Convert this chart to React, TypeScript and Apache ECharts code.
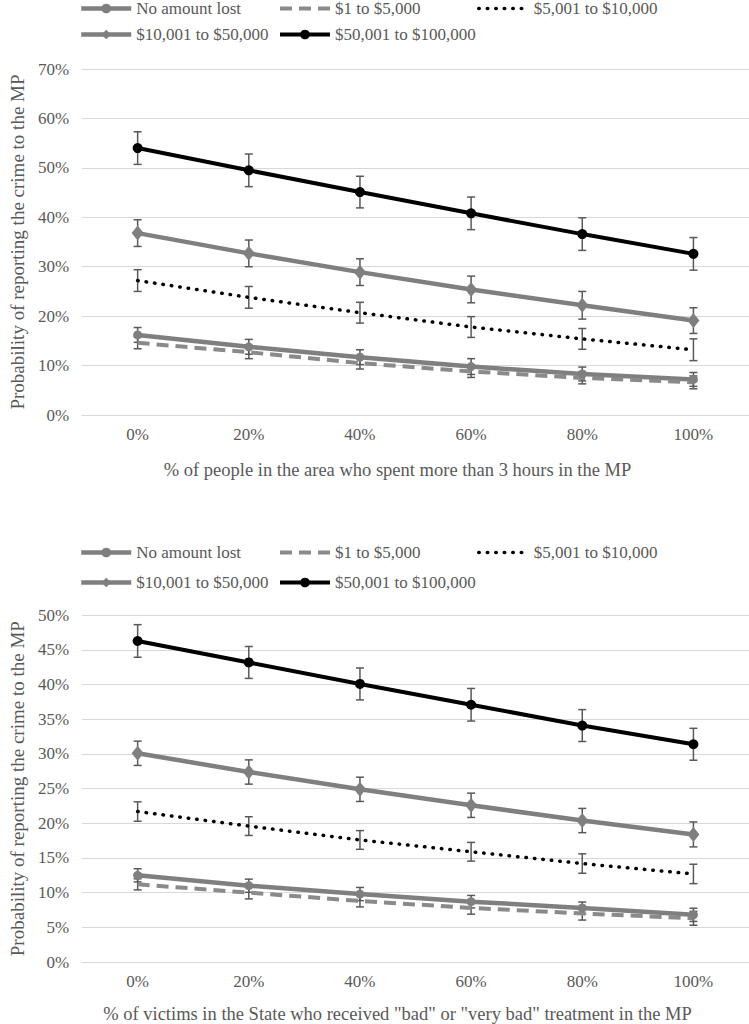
import React, { useEffect, useRef } from "react";
import * as echarts from "echarts";

const categories = ["0%", "20%", "40%", "60%", "80%", "100%"];
const seriesNames = [
  "No amount lost",
  "$1 to $5,000",
  "$5,001 to $10,000",
  "$10,001 to $50,000",
  "$50,001 to $100,000",
];

// Top chart: % of people in the area who spent more than 3 hours in the MP
const topNoLoss = [16.2, 13.8, 11.7, 9.8, 8.3, 7.2];
const topNoLossErr = [1.5, 1.5, 1.5, 1.6, 1.4, 1.4];
const topLow = [14.6, 12.7, 10.5, 8.8, 7.5, 6.6];
const topLowErr = [1.2, 1.3, 1.2, 1.2, 1.2, 1.3];
const topMid = [27.2, 23.8, 20.7, 17.8, 15.4, 13.2];
const topMidErr = [2.2, 2.2, 2.1, 2.1, 2.1, 2.2];
const topHigh = [36.8, 32.7, 28.9, 25.4, 22.2, 19.1];
const topHighErr = [2.7, 2.7, 2.7, 2.7, 2.8, 2.6];
const topMax = [54.0, 49.5, 45.1, 40.8, 36.6, 32.6];
const topMaxErr = [3.3, 3.3, 3.2, 3.3, 3.3, 3.3];

// Bottom chart: % of victims in the State who received "bad" or "very bad" treatment
const botNoLoss = [12.5, 11.0, 9.8, 8.7, 7.8, 6.8];
const botNoLossErr = [0.95, 0.95, 0.95, 0.9, 0.85, 0.95];
const botLow = [11.2, 10.0, 8.8, 7.8, 7.0, 6.3];
const botLowErr = [0.8, 0.9, 0.85, 0.9, 0.95, 1.0];
const botMid = [21.7, 19.6, 17.6, 15.9, 14.2, 12.7];
const botMidErr = [1.4, 1.35, 1.35, 1.35, 1.4, 1.4];
const botHigh = [30.1, 27.4, 24.9, 22.6, 20.4, 18.4];
const botHighErr = [1.75, 1.75, 1.75, 1.75, 1.75, 1.8];
const botMax = [46.3, 43.2, 40.1, 37.1, 34.1, 31.4];
const botMaxErr = [2.35, 2.3, 2.3, 2.35, 2.3, 2.3];

const topTicks = { min: 0, max: 70, interval: 10 };
const botTicks = { min: 0, max: 50, interval: 5 };

const yTitle = "Probability of reporting the crime to the MP";
const topXTitle = "% of people in the area who spent more than 3 hours in the MP";
const botXTitle = '% of victims in the State who received "bad" or "very bad" treatment in the MP';

const FONT = "'Liberation Serif', 'Times New Roman', Times, serif";
const TEXT = "#595959";
const GRID = "#d9d9d9";

const styles = [
  { color: "#7f7f7f", width: 4.5, type: "solid", symbol: "circle", size: 9, cap: "butt" },
  { color: "#8a8a8a", width: 4, type: [12, 7], symbol: "none", size: 0, cap: "butt" },
  { color: "#000000", width: 3.5, type: [0.5, 8], symbol: "none", size: 0, cap: "round" },
  { color: "#7f7f7f", width: 4.5, type: "solid", symbol: "diamond", size: [12, 15], cap: "butt" },
  { color: "#000000", width: 4, type: "solid", symbol: "circle", size: 10, cap: "butt" },
];

function lineSeries(idx: number, data: number[], axis: number) {
  const s = styles[idx];
  return {
    type: "line",
    name: seriesNames[idx],
    xAxisIndex: axis,
    yAxisIndex: axis,
    data,
    z: 3,
    symbol: s.symbol,
    symbolSize: s.size,
    showSymbol: s.symbol !== "none",
    itemStyle: { color: s.color },
    lineStyle: { color: s.color, width: s.width, type: s.type, cap: s.cap },
    emphasis: { disabled: true },
  };
}

function errSeries(idx: number, data: number[], err: number[], axis: number) {
  return {
    type: "custom",
    name: "err " + seriesNames[idx] + " " + axis,
    xAxisIndex: axis,
    yAxisIndex: axis,
    z: 2,
    silent: true,
    encode: { x: 0, y: [1, 2] },
    data: data.map((v, i) => [i, v - err[i], v + err[i]]),
    renderItem: (params: any, api: any) => {
      const lo = api.coord([api.value(0), api.value(1)]);
      const hi = api.coord([api.value(0), api.value(2)]);
      const w = 4;
      const style = { stroke: "#595959", lineWidth: 1.5, fill: "none" };
      return {
        type: "group",
        children: [
          { type: "line", shape: { x1: lo[0], y1: lo[1], x2: hi[0], y2: hi[1] }, style },
          { type: "line", shape: { x1: lo[0] - w, y1: lo[1], x2: lo[0] + w, y2: lo[1] }, style },
          { type: "line", shape: { x1: hi[0] - w, y1: hi[1], x2: hi[0] + w, y2: hi[1] }, style },
        ],
      };
    },
  };
}

const legendCols = [79, 278, 477, 79, 278];
function legends(rowTop1: number, rowTop2: number) {
  return seriesNames.map((n, i) => ({
    data: [styles[i].symbol === "none" ? { name: n, itemStyle: { opacity: 0 } } : { name: n }],
    left: legendCols[i],
    top: i < 3 ? rowTop1 : rowTop2,
    padding: 0,
    itemWidth: 50,
    itemHeight: 12,
    selectedMode: false,
    lineStyle: { width: styles[i].width },
    textStyle: { fontFamily: FONT, fontSize: 17, color: TEXT },
  }));
}

function xAxis(idx: number, title: string, gap: number) {
  return {
    type: "category",
    gridIndex: idx,
    data: categories,
    boundaryGap: true,
    axisLine: { show: true, lineStyle: { color: GRID, width: 1 } },
    axisTick: { show: false },
    axisLabel: { fontFamily: FONT, fontSize: 17, color: TEXT, margin: 11 },
    name: title,
    nameLocation: "middle",
    nameGap: gap,
    nameTextStyle: { fontFamily: FONT, fontSize: 18.5, color: TEXT, padding: [0, 36, 0, 0] },
  };
}

function yAxis(idx: number, ticks: { min: number; max: number; interval: number }) {
  return {
    type: "value",
    gridIndex: idx,
    min: ticks.min,
    max: ticks.max,
    interval: ticks.interval,
    axisLine: { show: false },
    axisTick: { show: false },
    axisLabel: { fontFamily: FONT, fontSize: 17, color: TEXT, margin: 13, formatter: "{value}%" },
    splitLine: { lineStyle: { color: GRID, width: 1 } },
    name: yTitle,
    nameLocation: "middle",
    nameRotate: 90,
    nameGap: 51,
    nameTextStyle: { fontFamily: FONT, fontSize: 19, color: TEXT },
  };
}

export default function App() {
  const ref = useRef<HTMLDivElement>(null);
  useEffect(() => {
    if (!ref.current) return;
    const chart = echarts.init(ref.current, null, { renderer: "svg" });
    const topSets = [
      [topNoLoss, topNoLossErr],
      [topLow, topLowErr],
      [topMid, topMidErr],
      [topHigh, topHighErr],
      [topMax, topMaxErr],
    ];
    const botSets = [
      [botNoLoss, botNoLossErr],
      [botLow, botLowErr],
      [botMid, botMidErr],
      [botHigh, botHighErr],
      [botMax, botMaxErr],
    ];
    const series: any[] = [];
    topSets.forEach(([d, e], i) => series.push(errSeries(i, d, e, 0)));
    botSets.forEach(([d, e], i) => series.push(errSeries(i, d, e, 1)));
    topSets.forEach(([d], i) => series.push(lineSeries(i, d, 0)));
    botSets.forEach(([d], i) => series.push(lineSeries(i, d, 1)));

    chart.setOption({
      animation: false,
      backgroundColor: "#ffffff",
      textStyle: { fontFamily: FONT },
      legend: [...legends(0, 26), ...legends(544, 574)],
      grid: [
        { left: 70.5, right: 0, top: 69, height: 346 },
        { left: 70.5, right: 0, top: 615.3, height: 347 },
      ],
      xAxis: [xAxis(0, topXTitle, 45), xAxis(1, botXTitle, 42)],
      yAxis: [yAxis(0, topTicks), yAxis(1, botTicks)],
      series,
    });
    return () => chart.dispose();
  }, []);
  return (
    <div
      ref={ref}
      style={{ position: "absolute", left: 0, top: 0, width: 749, height: 1024 }}
    />
  );
}
